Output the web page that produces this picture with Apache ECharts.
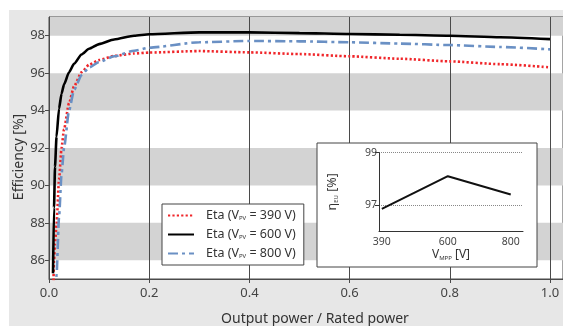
<!DOCTYPE html>
<html>
<head>
<meta charset="utf-8">
<script src="https://cdn.jsdelivr.net/npm/echarts@6/dist/echarts.min.js"></script>
<style>html,body{margin:0;padding:0;background:#fff}#c{width:563px;height:326px}</style>
</head>
<body>
<div id="c"></div>
<script>
// ---- data ----
const powerRatio = [0.008,0.01,0.012,0.015,0.02,0.025,0.03,0.04,0.05,0.065,0.08,0.1,0.13,0.17,0.2,0.3,0.4,0.5,0.6,0.7,0.8,0.9,1.0];
const eta390 = [83.5,86.0,86.9,87.9,90.3,92.0,93.0,94.4,95.3,96.05,96.45,96.7,96.92,97.05,97.1,97.18,97.11,97.02,96.9,96.77,96.63,96.48,96.31];
const eta600 = [85.3,88.8,91.0,92.6,94.1,94.9,95.4,96.05,96.5,97.0,97.3,97.55,97.8,98.0,98.08,98.18,98.18,98.14,98.09,98.05,98.0,97.92,97.82];
const eta800 = [81.0,82.5,83.7,85.2,88.3,90.6,92.0,94.0,95.1,95.9,96.3,96.6,96.9,97.2,97.36,97.65,97.72,97.7,97.65,97.58,97.5,97.4,97.27];
const seriesNames = ['Eta (VPV = 390 V)','Eta (VPV = 600 V)','Eta (VPV = 800 V)'];
const yTicks = [86,88,90,92,94,96,98];
const grayBands = [[98,99],[94,96],[90,92],[86,88]];
const vmpp = [390,600,800];
const etaEU = [96.85,98.1,97.4];
const insetYTicks = [97,99];

const zip = (xs, ys) => xs.map((x,i)=>[x, ys[i]]);
const FONT = 'Noto Sans';
const chart = echarts.init(document.getElementById('c'), null, {renderer:'canvas'});

const NOSYM = {color:'rgba(0,0,0,0)', borderWidth:0};
const lineCommon = {type:'line', symbol:'none', smooth:0.2, smoothMonotone:'x', clip:true, z:3, xAxisIndex:0, yAxisIndex:0, itemStyle:NOSYM};

chart.setOption({
  animation:false,
  backgroundColor:'#fff',
  graphic:[
    {type:'rect', shape:{x:9,y:10,width:554,height:316}, style:{fill:'#e7e7e7'}, z:-10, silent:true},
    {type:'rect', shape:{x:317,y:143,width:220,height:124}, style:{fill:'#fff', stroke:'#444', lineWidth:1}, z:10, silent:true}
  ],
  grid:[
    {left:49, top:17, right:0, height:262, show:true, backgroundColor:'#fff', borderColor:'#4a4a4a', borderWidth:1, z:0, outerBoundsMode:'none', containLabel:false},
    {left:379, top:152.7, width:144, height:78.3, show:false, z:11, outerBoundsMode:'none', containLabel:false}
  ],
  xAxis:[
    {type:'value', gridIndex:0, min:0, max:514/501, interval:0.2, z:2,
     axisLine:{lineStyle:{color:'#4a4a4a'}},
     axisTick:{show:true, length:4, lineStyle:{color:'#4a4a4a'}},
     axisLabel:{color:'#444', fontSize:13, fontFamily:FONT, margin:8,
       formatter:v=> v>1.0001 ? '' : v.toFixed(1)},
     splitLine:{show:true, lineStyle:{color:'#4a4a4a', width:1}},
     name:'Output power / Rated power', nameLocation:'middle', nameGap:33, nameMoveOverlap:false,
     nameTextStyle:{color:'#333', fontSize:14, fontFamily:FONT, padding:[0,0,0,18], verticalAlign:'top'}},
    {type:'value', gridIndex:1, min:381, max:839, z:11,
     axisLine:{lineStyle:{color:'#333'}},
     axisTick:{show:false},
     axisLabel:{customValues:vmpp, color:'#444', fontSize:10.5, fontFamily:FONT, margin:6},
     splitLine:{show:false},
     name:'V{s|MPP} [V]', nameLocation:'middle', nameGap:17,
     nameTextStyle:{color:'#333', fontSize:12, fontFamily:FONT,
       rich:{s:{fontSize:6, fontFamily:FONT, color:'#333', padding:[7,0,0,0]}}}}
  ],
  yAxis:[
    {type:'value', gridIndex:0, min:85, max:99, z:2,
     axisLine:{show:true, lineStyle:{color:'#4a4a4a'}},
     axisTick:{show:true, length:4, customValues:yTicks, lineStyle:{color:'#4a4a4a'}},
     axisLabel:{customValues:yTicks, color:'#444', fontSize:13, fontFamily:FONT, margin:4},
     splitLine:{show:false},
     name:'Efficiency [%]', nameLocation:'middle', nameGap:23, nameRotate:90, nameMoveOverlap:false,
     nameTextStyle:{color:'#333', fontSize:14, fontFamily:FONT, padding:[0,18,0,0]}},
    {type:'value', gridIndex:1, min:96, max:99, interval:1, z:11,
     axisLine:{show:true, lineStyle:{color:'#333'}},
     axisTick:{show:true, length:4, customValues:insetYTicks, lineStyle:{color:'#333'}},
     axisLabel:{customValues:insetYTicks, color:'#444', fontSize:10.5, fontFamily:FONT, margin:2},
     splitLine:{show:true, lineStyle:{color:'#888', type:[1,1], width:1}},
     name:'η{s|EU} [%]', nameLocation:'middle', nameGap:40, nameRotate:90,
     nameTextStyle:{color:'#333', fontSize:12.5, fontFamily:FONT,
       rich:{s:{fontSize:6, fontFamily:FONT, color:'#333', padding:[7,0,0,0]}}}}
  ],
  legend:{
    data:seriesNames, orient:'vertical', left:162, top:204,
    backgroundColor:'#fff', borderColor:'#444', borderWidth:1, borderRadius:0,
    padding:[5,8,5,5], itemGap:6, itemWidth:26, itemHeight:14, z:12,
    formatter:n=>n.replace('VPV','V{s|PV}'),
    textStyle:{color:'#333', fontSize:12.5, fontFamily:FONT, padding:[0,0,0,7],
      rich:{s:{fontSize:6, fontFamily:FONT, color:'#333', padding:[6,0,0,0]}}}
  },
  series:[
    {type:'line', data:[], z:1, silent:true, xAxisIndex:0, yAxisIndex:0,
     markArea:{silent:true, itemStyle:{color:'#d3d3d3'},
       data:grayBands.map(b=>[{yAxis:b[0]},{yAxis:b[1]}])}},
    Object.assign({}, lineCommon, {name:seriesNames[0], data:zip(powerRatio, eta390),
      lineStyle:{color:'#f0262a', width:2.6, type:[2.2,2.2]}}),
    Object.assign({}, lineCommon, {name:seriesNames[1], data:zip(powerRatio, eta600),
      lineStyle:{color:'#000', width:2.6, type:'solid'}}),
    Object.assign({}, lineCommon, {name:seriesNames[2], data:zip(powerRatio, eta800),
      lineStyle:{color:'#6a90c4', width:2.6, type:[10,4,3,4]}}),
    {type:'line', xAxisIndex:1, yAxisIndex:1, symbol:'none', z:12, silent:true,
     data:zip(vmpp, etaEU), lineStyle:{color:'#111', width:2}}
  ]
});
</script>
</body>
</html>
